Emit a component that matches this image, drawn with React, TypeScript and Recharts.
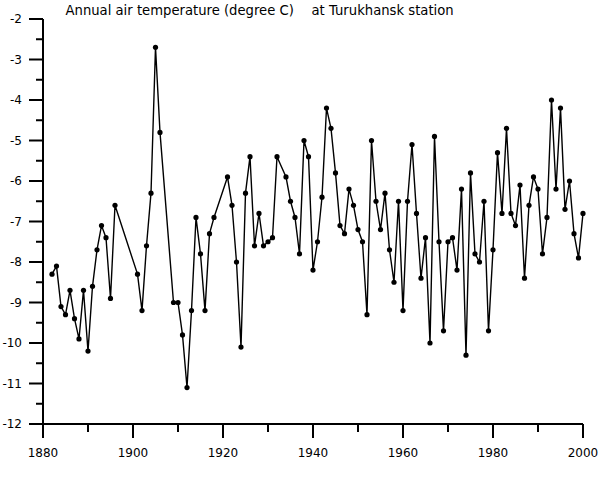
import React from "react";
import { LineChart, Line, XAxis, YAxis } from "recharts";

// Turukhansk station, annual mean air temperature (degree C); years without a dot are missing
const years = [
  1882, 1883, 1884, 1885, 1886, 1887, 1888, 1889, 1890, 1891, 1892, 1893, 1894, 1895, 1896,
  1901, 1902, 1903, 1904, 1905, 1906, 1909, 1910, 1911, 1912, 1913, 1914, 1915, 1916, 1917, 1918,
  1921, 1922, 1923, 1924, 1925, 1926, 1927, 1928, 1929, 1930, 1931, 1932, 1934, 1935, 1936, 1937,
  1938, 1939, 1940, 1941, 1942, 1943, 1944, 1945, 1946, 1947, 1948, 1949, 1950, 1951, 1952, 1953,
  1954, 1955, 1956, 1957, 1958, 1959, 1960, 1961, 1962, 1963, 1964, 1965, 1966, 1967, 1968, 1969,
  1970, 1971, 1972, 1973, 1974, 1975, 1976, 1977, 1978, 1979, 1980, 1981, 1982, 1983, 1984, 1985,
  1986, 1987, 1988, 1989, 1990, 1991, 1992, 1993, 1994, 1995, 1996, 1997, 1998, 1999, 2000,
];

const temps = [
  -8.3, -8.1, -9.1, -9.3, -8.7, -9.4, -9.9, -8.7, -10.2, -8.6, -7.7, -7.1, -7.4, -8.9, -6.6,
  -8.3, -9.2, -7.6, -6.3, -2.7, -4.8, -9.0, -9.0, -9.8, -11.1, -9.2, -6.9, -7.8, -9.2, -7.3, -6.9,
  -5.9, -6.6, -8.0, -10.1, -6.3, -5.4, -7.6, -6.8, -7.6, -7.5, -7.4, -5.4, -5.9, -6.5, -6.9, -7.8,
  -5.0, -5.4, -8.2, -7.5, -6.4, -4.2, -4.7, -5.8, -7.1, -7.3, -6.2, -6.6, -7.2, -7.5, -9.3, -5.0,
  -6.5, -7.2, -6.3, -7.7, -8.5, -6.5, -9.2, -6.5, -5.1, -6.8, -8.4, -7.4, -10.0, -4.9, -7.5, -9.7,
  -7.5, -7.4, -8.2, -6.2, -10.3, -5.8, -7.8, -8.0, -6.5, -9.7, -7.7, -5.3, -6.8, -4.7, -6.8, -7.1,
  -6.1, -8.4, -6.6, -5.9, -6.2, -7.8, -6.9, -4.0, -6.2, -4.2, -6.7, -6.0, -7.3, -7.9, -6.8,
];

const xTicks = [1880, 1890, 1900, 1910, 1920, 1930, 1940, 1950, 1960, 1970, 1980, 1990, 2000];
const yTicks = [
  -12, -11.5, -11, -10.5, -10, -9.5, -9, -8.5, -8, -7.5, -7, -6.5, -6, -5.5, -5, -4.5, -4, -3.5,
  -3, -2.5, -2,
];

const titleMain = "Annual air temperature (degree C)";
const titleStation = "at Turukhansk station";

const FONT = "'DejaVu Sans', Verdana, sans-serif";

const data = years.map((year, i) => ({ year, temp: temps[i] }));

function YTick(props: any) {
  const { x, y, payload } = props;
  const major = Number.isInteger(payload.value);
  return (
    <g>
      <line x1={x - (major ? 14 : 7)} x2={x} y1={y} y2={y} stroke="#000" strokeWidth={2} />
      {major && (
        <text x={x - 21} y={y + 4.4} textAnchor="end" fontSize={12} fontFamily={FONT} fill="#000">
          {payload.value}
        </text>
      )}
    </g>
  );
}

function XTick(props: any) {
  const { x, y, payload } = props;
  const major = payload.value % 20 === 0;
  return (
    <g>
      <line x1={x} x2={x} y1={y} y2={y + (major ? 14 : 8)} stroke="#000" strokeWidth={2} />
      {major && (
        <text x={x} y={y + 33} textAnchor="middle" fontSize={12} fontFamily={FONT} fill="#000">
          {payload.value}
        </text>
      )}
    </g>
  );
}

export default function App() {
  return (
    <div style={{ position: "absolute", left: 0, top: 0, width: 600, height: 487, background: "#fff" }}>
      <LineChart width={600} height={487} data={data} margin={{ top: 19, right: 17, bottom: 0, left: 0 }}>
        <XAxis
          dataKey="year"
          type="number"
          domain={[1880, 2000]}
          ticks={xTicks}
          height={63}
          tickSize={0}
          tickMargin={0}
          tickLine={false}
          axisLine={{ stroke: "#000", strokeWidth: 2 }}
          tick={<XTick />}
          interval={0}
        />
        <YAxis
          type="number"
          domain={[-12, -2]}
          ticks={yTicks}
          width={43}
          tickSize={0}
          tickMargin={0}
          tickLine={false}
          axisLine={{ stroke: "#000", strokeWidth: 2 }}
          tick={<YTick />}
          interval={0}
        />
        <Line
          type="linear"
          dataKey="temp"
          stroke="#000"
          strokeWidth={1.4}
          dot={{ r: 2.6, fill: "#000", stroke: "none" }}
          isAnimationActive={false}
        />
      </LineChart>
      <svg width={600} height={30} style={{ position: "absolute", left: 0, top: 0, pointerEvents: "none" }}>
        <text x={65.5} y={15} fontSize={13.2} fontFamily={FONT} fill="#000">
          {titleMain}
        </text>
        <text x={311.5} y={15} fontSize={13.2} fontFamily={FONT} fill="#000">
          {titleStation}
        </text>
      </svg>
    </div>
  );
}
